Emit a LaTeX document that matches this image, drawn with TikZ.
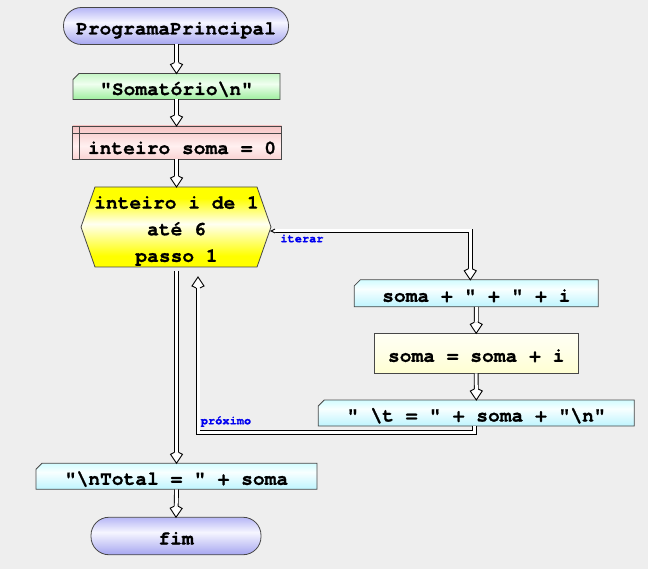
\documentclass[tikz,border=0pt]{standalone}
\usepackage{fontspec}
\setmonofont{texgyrecursor}[Extension=.otf, UprightFont=*-regular, BoldFont=*-bold, ItalicFont=*-italic, BoldItalicFont=*-bolditalic, Ligatures=NoCommon, BoldFeatures={FakeBold=0.8}]
\usetikzlibrary{calc,decorations.markings,backgrounds}

\definecolor{canvas}{HTML}{EEEEEE}
\definecolor{rim}{HTML}{474747}
\definecolor{flowlabel}{HTML}{0000F0}
\definecolor{lavlo}{HTML}{A6A6F0}
\definecolor{lavmid}{HTML}{F6F6FF}
\definecolor{lavhi}{HTML}{B6B6F6}
\definecolor{grnlo}{HTML}{9EEE9E}
\definecolor{grnmid}{HTML}{F0FFF0}
\definecolor{grnhi}{HTML}{C6F6C6}
\definecolor{pnklo}{HTML}{FAD4D4}
\definecolor{pnkmid}{HTML}{FFF0F0}
\definecolor{pnkhi}{HTML}{F6C4C4}
\definecolor{ylwlo}{HTML}{FFFF00}
\definecolor{ylwmid}{HTML}{FFFFF2}
\definecolor{ylwhi}{HTML}{FFFF00}
\definecolor{cyalo}{HTML}{BEF4FE}
\definecolor{cyamid}{HTML}{F8FFFF}
\definecolor{cyahi}{HTML}{D2FCFF}
\definecolor{crmlo}{HTML}{FFFFD2}
\definecolor{crmmid}{HTML}{FFFFE6}
\definecolor{crmhi}{HTML}{FFFFF4}

% vertical shadings: 25bp is the bottom edge of a shape, 75bp its top edge
\pgfdeclareverticalshading{termshade}{100bp}{color(0bp)=(lavlo); color(25bp)=(lavlo); color(55bp)=(lavmid); color(75bp)=(lavhi); color(100bp)=(lavhi)}
\pgfdeclareverticalshading{greenshade}{100bp}{color(0bp)=(grnlo); color(25bp)=(grnlo); color(55bp)=(grnmid); color(75bp)=(grnhi); color(100bp)=(grnhi)}
\pgfdeclareverticalshading{pinkshade}{100bp}{color(0bp)=(pnklo); color(25bp)=(pnklo); color(45bp)=(pnkmid); color(75bp)=(pnkhi); color(100bp)=(pnkhi)}
\pgfdeclareverticalshading{loopshade}{100bp}{color(0bp)=(ylwlo); color(25bp)=(ylwlo); color(32bp)=(ylwlo); color(52bp)=(ylwmid); color(68bp)=(ylwhi); color(75bp)=(ylwhi); color(100bp)=(ylwhi)}
\pgfdeclareverticalshading{cyanshade}{100bp}{color(0bp)=(cyalo); color(25bp)=(cyalo); color(58bp)=(cyamid); color(75bp)=(cyahi); color(100bp)=(cyahi)}
\pgfdeclareverticalshading{creamshade}{100bp}{color(0bp)=(crmlo); color(25bp)=(crmlo); color(50bp)=(crmmid); color(75bp)=(crmhi); color(100bp)=(crmhi)}

\tikzset{
  every node/.style={inner sep=0pt, outer sep=0pt},
  codetext/.style={font=\ttfamily\bfseries\fontsize{19.6}{27}\selectfont, text=black, text height=17pt, text depth=0pt},
  looptext/.style={font=\ttfamily\bfseries\fontsize{19.6}{26.6}\selectfont, text=black, align=center},
  rim line/.style={draw=rim, line width=0.8pt},
  flowlink/.style={
    preaction={draw=black, line width=0.9pt, double=white, double distance=3pt, shorten >=11pt},
    postaction={decorate, decoration={markings,
      mark=at position 1 with {\draw[black, line width=0.9pt, fill=white, line join=miter]
        (-11pt,1.95pt) -- (-9pt,6pt) -- (0pt,0pt) -- (-9pt,-6pt) -- (-11pt,-1.95pt);}}}},
  pointedstart/.style={
    postaction={decorate, decoration={markings,
      mark=at position 0 with {\draw[black, line width=0.9pt, fill=white]
        (0pt,1.95pt) -- (-4pt,0pt) -- (0pt,-1.95pt);}}}},
  linklabel/.style={font=\ttfamily\bfseries\fontsize{12}{12}\selectfont, text=flowlabel}
}

\begin{document}
\begin{tikzpicture}[x=1pt,y=-1pt]
\useasboundingbox (0,0) rectangle (648,569);

% main column
\node[codetext, minimum width=225pt, minimum height=37pt] (prog) at (176,26) {ProgramaPrincipal};
\node[codetext, minimum width=207pt, minimum height=26pt] (som) at (176.5,86.5) {"Somatório\textbackslash n"};
\node[codetext, text height=23pt, minimum width=209pt, minimum height=33pt] (decl) at (177,142.5) {\hspace*{10pt}inteiro soma = 0};
\node[looptext, minimum width=189pt, minimum height=80pt] (hex) at (176.5,231) {inteiro i de 1\\até 6\\passo 1};
\node[codetext, minimum width=281pt, minimum height=26pt] (tot) at (176.5,476.3) {"\textbackslash nTotal = " + soma};
\node[codetext, minimum width=170pt, minimum height=37.5pt] (fim) at (176,536) {fim};

% loop body
\node[codetext, minimum width=244pt, minimum height=27pt] (sp) at (476.3,293.3) {soma + " + " + i};
\node[codetext, minimum width=204pt, minimum height=40pt] (acc) at (476.2,353.3) {soma = soma + i};
\node[codetext, minimum width=316pt, minimum height=26pt] (tb) at (476.3,413) {" \textbackslash t = " + soma + "\textbackslash n"};

% connector labels
\node[linklabel] (itlab) at (302,238.5) {iterar};
\node[linklabel] (proxlab) at (226,421.5) {próximo};

% connectors
\path[flowlink] (prog.south -| som.north) -- (som.north);
\path[flowlink] (som.south) -- (som.south |- decl.north);
\path[flowlink] (decl.south -| hex.north) -- ($(hex.north)+(0,-4)$);
\path[flowlink, pointedstart] ($(hex.east)+(4,0)$) -| ($(sp.north west)+(116,0)$);
\path[flowlink] (sp.south) -- (acc.north);
\path[flowlink] (acc.south) -- (tb.north);
\path[flowlink] ($(tb.south)+(-1.5,0)$) -- ++(0,6.5) -| ($(hex.south)+(21.5,6)$);
\path[flowlink] (hex.south) -- (tot.north);
\path[flowlink] (tot.south) -- (fim.north);

% shapes behind the text
\begin{scope}[on background layer]
  \fill[canvas] (0,0) rectangle (648,569);
  \shade[rim line, shading=termshade, rounded corners=18pt] (prog.north west) rectangle (prog.south east);
  \shade[rim line, shading=greenshade] ($(som.north west)+(0,6)$) -- ($(som.north west)+(6,0)$) -- (som.north east) -- (som.south east) -- (som.south west) -- cycle;
  \shade[rim line, shading=pinkshade] (decl.north west) rectangle (decl.south east);
  \draw[rim line] ($(decl.north west)+(0,7)$) -- ($(decl.north east)+(0,7)$);
  \draw[rim line] ($(decl.north west)+(7,0)$) -- ($(decl.south west)+(7,0)$);
  \shade[rim line, shading=loopshade] ($(hex.west)+(-1,-4)$) -- ($(hex.north west)+(13,-4)$) -- ($(hex.north east)+(-14,-4)$) -- ($(hex.east)+(0,-4)$) -- ($(hex.south east)+(-14,-4)$) -- ($(hex.south west)+(13,-4)$) -- cycle;
  \shade[rim line, shading=cyanshade] ($(sp.north west)+(0,6)$) -- ($(sp.north west)+(6,0)$) -- (sp.north east) -- (sp.south east) -- (sp.south west) -- cycle;
  \shade[rim line, shading=creamshade] (acc.north west) rectangle (acc.south east);
  \shade[rim line, shading=cyanshade] ($(tb.north west)+(0,6)$) -- ($(tb.north west)+(6,0)$) -- (tb.north east) -- (tb.south east) -- (tb.south west) -- cycle;
  \shade[rim line, shading=cyanshade] ($(tot.north west)+(0,6)$) -- ($(tot.north west)+(6,0)$) -- (tot.north east) -- (tot.south east) -- (tot.south west) -- cycle;
  \shade[rim line, shading=termshade, rounded corners=18pt] (fim.north west) rectangle (fim.south east);
\end{scope}
\end{tikzpicture}
\end{document}
